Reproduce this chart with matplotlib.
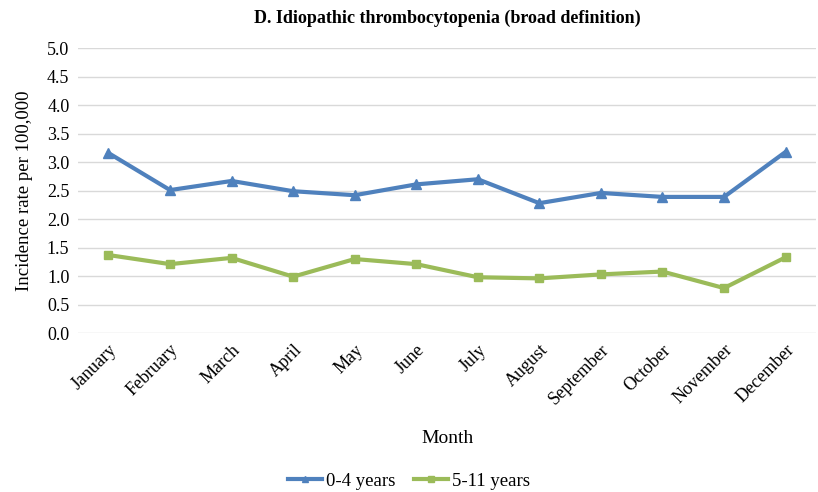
import matplotlib.pyplot as plt

months = ["January", "February", "March", "April", "May", "June", "July",
          "August", "September", "October", "November", "December"]
age_0_4 = [3.16, 2.51, 2.67, 2.49, 2.42, 2.61, 2.70, 2.28, 2.46, 2.39, 2.39, 3.18]
age_5_11 = [1.37, 1.21, 1.32, 0.99, 1.30, 1.21, 0.98, 0.96, 1.03, 1.08, 0.79, 1.33]
yticks = [0.0, 0.5, 1.0, 1.5, 2.0, 2.5, 3.0, 3.5, 4.0, 4.5, 5.0]

plt.rcParams["font.family"] = ["Liberation Serif", "DejaVu Serif"]

fig = plt.figure(figsize=(8.18, 4.92), dpi=100)
ax = fig.add_axes([0.095, 0.323, 0.903, 0.579])

x = list(range(len(months)))
ax.plot(x, age_0_4, color="#4F81BD", lw=3, marker="^", ms=7, label="0-4 years")
ax.plot(x, age_5_11, color="#9BBB59", lw=3, marker="s", ms=6, label="5-11 years")

ax.set_xlim(-0.5, len(months) - 0.5)
ax.set_ylim(0, 5.0)
ax.set_yticks(yticks)
ax.set_yticklabels([f"{v:.1f}" for v in yticks], fontsize=13)
ax.set_xticks(x)
ax.set_xticklabels(months, rotation=45, ha="right", rotation_mode="anchor", fontsize=13)
ax.tick_params(length=0, pad=6)
ax.grid(axis="y", color="#D9D9D9", lw=1)
ax.set_axisbelow(True)
for s in ax.spines.values():
    s.set_visible(False)

ax.set_ylabel("Incidence rate per 100,000", fontsize=13.5, labelpad=10)
ax.set_xlabel("Month", fontsize=14, labelpad=16)
ax.set_title("D. Idiopathic thrombocytopenia (broad definition)", fontsize=13,
             fontweight="bold", pad=18)
fig.legend(loc="lower center", bbox_to_anchor=(0.5, -0.03), ncol=2, frameon=False,
           fontsize=13.5, handlelength=1.8, handletextpad=0.2, columnspacing=1.0,
           markerscale=0.7)

fig.savefig("out.png", dpi=100)
